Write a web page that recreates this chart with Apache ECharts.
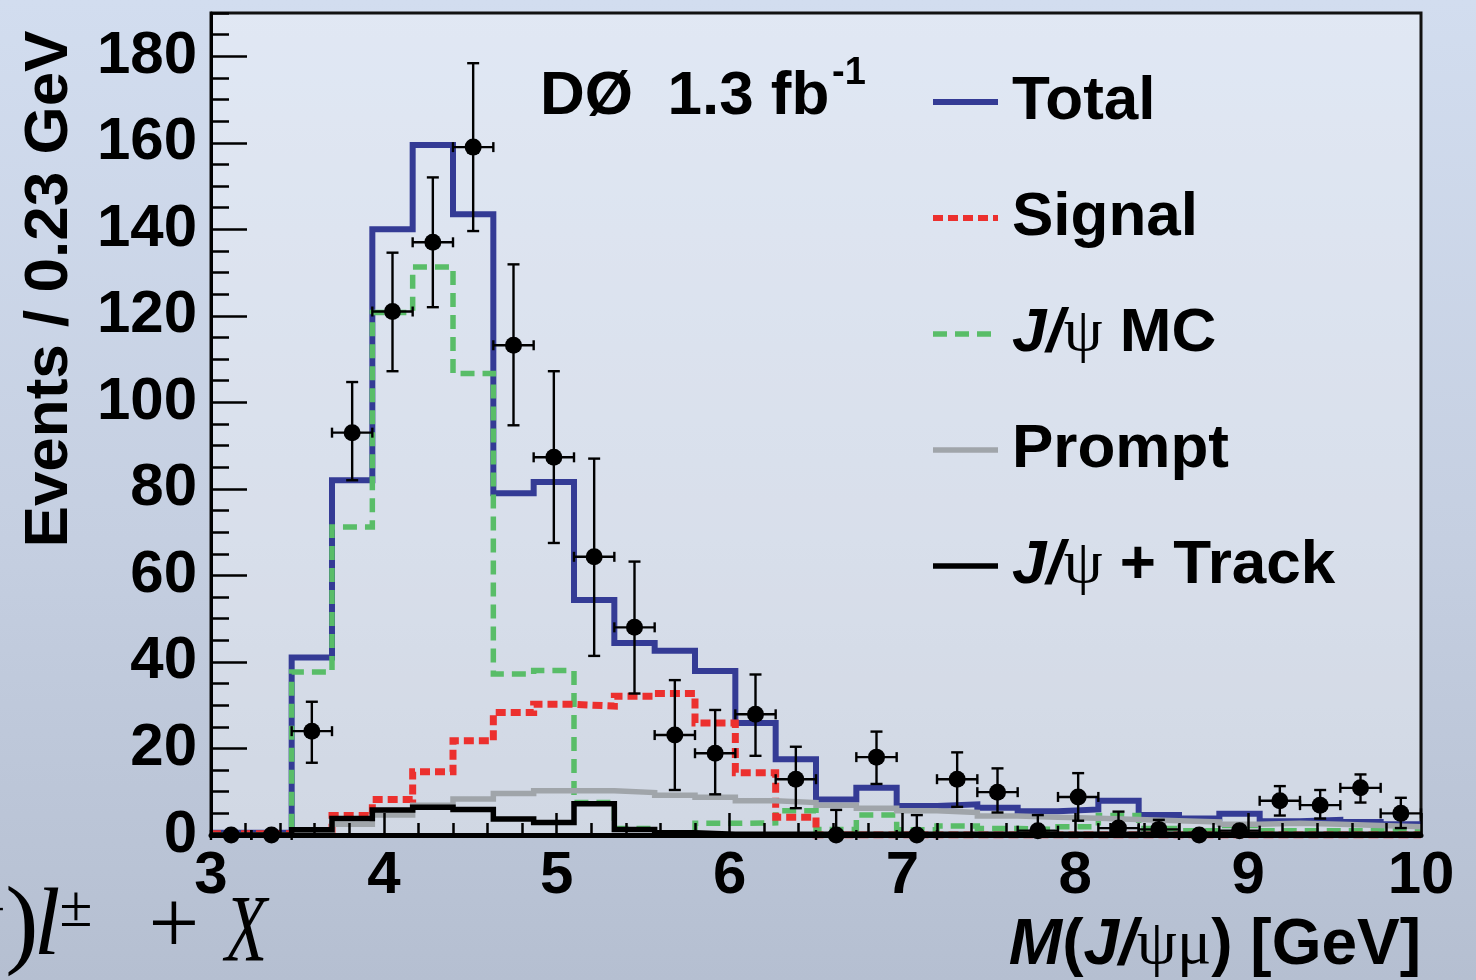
<!DOCTYPE html>
<html>
<head>
<meta charset="utf-8">
<script src="https://cdn.jsdelivr.net/npm/echarts@6/dist/echarts.min.js"></script>
<style>
  html, body { margin: 0; padding: 0; }
  #chart {
    width: 1476px; height: 980px;
    background: linear-gradient(180deg, #d2ddef 0%, #c5cfe1 55%, #b5bfd1 100%);
  }
</style>
</head>
<body>
<div id="chart"></div>
<script>
// Binning of the M(J/psi mu) histogram: 30 bins between 3 and 10 GeV
const X_MIN = 3;
const X_MAX = 10;
const N_BINS = 30;
const BIN_W = (X_MAX - X_MIN) / N_BINS;

// Fit components, events per bin
const totalFit = [0.5, 0.5, 41, 82, 140, 159.5, 143.5, 79, 81.6, 54.3,
                  44.4, 42.6, 37.9, 25.9, 17.5, 8.2, 10.9, 6.7, 7.1, 6.3,
                  5.5, 5.9, 7.9, 4.6, 3.8, 4.9, 3.2, 3.5, 3.0, 2.5];
const signal   = [0.3, 0.3, 0.5, 4.5, 8.2, 14.6, 21.8, 28.3, 30.2, 29.8,
                  32.1, 32.7, 25.9, 14.4, 4.1, 0, 0, 0, 0, 0,
                  0, 0, 0, 0, 0, 0, 0, 0, 0, 0];
const jpsiMC   = [0, 0, 37.7, 71.2, 120.8, 131.3, 106.7, 37.2, 38, 7.5,
                  1.5, 0, 2.7, 2.8, 5.6, 1.3, 4.6, 1.2, 2.1, 1.5,
                  1.3, 1.9, 4.5, 1.5, 1.0, 2.2, 1.0, 1.0, 1.0, 1.0];
const prompt   = [0, 0, 0.5, 2.5, 4.6, 6.9, 8.3, 9.6, 10.2, 10.2,
                  9.8, 9.2, 8.7, 7.9, 7.5, 6.9, 6.2, 5.6, 5.2, 4.4,
                  4.1, 3.9, 3.6, 3.3, 3.0, 2.5, 2.7, 2.5, 2.2, 1.9];
const jpsiTrack = [0, 0, 1.2, 3.8, 5.8, 6.4, 5.9, 3.7, 2.9, 7.2,
                   1.3, 0.5, 0.2, 0.2, 0.2, 0.2, 0.2, 0.2, 0.2, 0.2,
                   0.2, 0.2, 0.2, 0.2, 0.2, 0.2, 0.2, 0.2, 0.2, 0.2];

// Data: counts per bin with asymmetric errors
const dataCounts = [0, 0, 24, 93, 121, 137, 159, 113.2, 87.3, 64.3,
                    48, 23.1, 18.9, 27.9, 12.9, 0, 18, 0, 12.9, 9.9,
                    1, 8.8, 1.6, 1.3, 0, 1, 7.9, 6.9, 10.9, 5];
const errDown = [0, 0, 7.3, 11, 13.8, 15, 19.4, 18.5, 19.8, 22.9,
                 15.3, 12.7, 9.5, 9.6, 6.7, 0, 6.2, 0, 6.4, 4.7,
                 1, 5.5, 1.6, 1.3, 0, 1, 3.4, 3.1, 3.4, 3.4];
const errUp   = [0, 0, 6.8, 11.7, 13.6, 15, 19.4, 18.7, 19.9, 22.7,
                 15.2, 12.7, 10, 9.2, 7.5, 5.8, 5.9, 4.6, 6.2, 5.5,
                 3.6, 5.5, 3.8, 2.2, 0, 1, 3.4, 3.5, 3.1, 3.6];

// Axis ticks
const xMajorStep = 1, xMinorStep = 0.2;
const yMax = 190, yMajorStep = 20, yMinorStep = 5;

const FONT = '"Liberation Sans", Arial, Helvetica, sans-serif';
const SERIF = '"Liberation Serif", "DejaVu Serif", serif';

const BLUE = '#343b95', RED = '#ec302e', GREEN = '#59bd68', GRAY = '#a0a5aa', BLACK = '#000000';

// line styles shared by the histograms and their legend keys
const STYLES = {
  'Total':       { color: BLUE,  width: 6,   type: 'solid' },
  'Signal':      { color: RED,   width: 7,   type: [10, 5] },
  'J/ψ MC':      { color: GREEN, width: 5.5, type: [14, 8] },
  'Prompt':      { color: GRAY,  width: 5.5, type: 'solid' },
  'J/ψ + Track': { color: BLACK, width: 5.5, type: 'solid' }
};

// step-histogram outline: left edge of every bin + closing right edge
function histPoints(values) {
  const pts = values.map((v, k) => [X_MIN + k * BIN_W, v]);
  pts.push([X_MAX, values[values.length - 1]]);
  return pts;
}

function histSeries(name, values, z) {
  const s = STYLES[name];
  return {
    name: name,
    type: 'line',
    step: 'end',
    symbol: 'none',
    z: z,
    data: histPoints(values),
    lineStyle: { color: s.color, width: s.width, type: s.type, cap: 'butt', join: 'miter' },
    itemStyle: { color: s.color },
    silent: true
  };
}

const pointData = dataCounts.map((v, k) => [X_MIN + (k + 0.5) * BIN_W, v, errDown[k], errUp[k]]);

const chart = echarts.init(document.getElementById('chart'), null, { renderer: 'canvas' });

const labelRich = {
  b:  { fontFamily: FONT, fontWeight: 'bold', fontSize: 62, color: '#000', lineHeight: 70 },
  bi: { fontFamily: FONT, fontWeight: 'bold', fontStyle: 'italic', fontSize: 62, color: '#000', lineHeight: 70 },
  g:  { fontFamily: SERIF, fontSize: 62, color: '#000', lineHeight: 70 }
};
const titleRich = {
  b:  { fontFamily: FONT, fontWeight: 'bold', fontSize: 64, color: '#000', lineHeight: 72 },
  bi: { fontFamily: FONT, fontWeight: 'bold', fontStyle: 'italic', fontSize: 64, color: '#000', lineHeight: 72 },
  g:  { fontFamily: SERIF, fontSize: 64, color: '#000', lineHeight: 72 }
};

const legendText = {
  'Total': '{b|Total}',
  'Signal': '{b|Signal}',
  'J/ψ MC': '{bi|J/}{g|ψ}{b| MC}',
  'Prompt': '{b|Prompt}',
  'J/ψ + Track': '{bi|J/}{g|ψ}{b| + Track}'
};

const legendOrder = ['Total', 'Signal', 'J/ψ MC', 'Prompt', 'J/ψ + Track'];

const option = {
  backgroundColor: 'transparent',
  animation: false,
  grid: {
    left: 211, top: 13, width: 1210, height: 822,
    show: true,
    backgroundColor: 'rgba(255,255,255,0.33)',
    borderColor: '#111',
    borderWidth: 3
  },
  legend: {
    orient: 'vertical',
    left: 930,
    top: 71,
    padding: 0,
    itemWidth: 65,
    itemHeight: 14,
    itemGap: 54,
    selectedMode: false,
    data: legendOrder.map(name => ({
      name: name,
      lineStyle: { color: STYLES[name].color, width: Math.min(STYLES[name].width, 6), type: STYLES[name].type },
      itemStyle: { color: 'rgba(0,0,0,0)', opacity: 0, borderWidth: 0 }
    })),
    formatter: name => legendText[name],
    textStyle: { padding: [0, 0, 0, 9], rich: labelRich }
  },
  xAxis: [
    {
      type: 'value', min: X_MIN, max: X_MAX, interval: xMajorStep, position: 'bottom', z: 10,
      axisLine: { show: true, onZero: false, lineStyle: { color: '#000', width: 5 } },
      axisTick: { show: true, inside: true, length: 22, lineStyle: { color: '#000', width: 2.5 } },
      axisLabel: { show: true, margin: 11, fontFamily: FONT, fontWeight: 'bold', fontSize: 60, color: '#000',
                   showMinLabel: true, showMaxLabel: true, hideOverlap: false },
      splitLine: { show: false }
    },
    {
      type: 'value', min: X_MIN, max: X_MAX, interval: xMinorStep, position: 'bottom', z: 10,
      axisLine: { show: false, onZero: false },
      axisTick: { show: true, inside: true, length: 12, lineStyle: { color: '#000', width: 2.5 } },
      axisLabel: { show: false },
      splitLine: { show: false }
    }
  ],
  yAxis: [
    {
      type: 'value', min: 0, max: yMax, interval: yMajorStep, position: 'left', z: 10,
      axisLine: { show: true, onZero: false, lineStyle: { color: '#000', width: 3 } },
      axisTick: { show: true, inside: true, length: 36, lineStyle: { color: '#000', width: 2.5 } },
      axisLabel: { show: true, margin: 14, fontFamily: FONT, fontWeight: 'bold', fontSize: 60, color: '#000',
                   showMaxLabel: false, hideOverlap: false,
                   formatter: v => (v > 180 ? '' : String(v)) },
      splitLine: { show: false }
    },
    {
      type: 'value', min: 0, max: yMax, interval: yMinorStep, position: 'left', z: 10,
      axisLine: { show: false, onZero: false },
      axisTick: { show: true, inside: true, length: 18, lineStyle: { color: '#000', width: 2.5 } },
      axisLabel: { show: false },
      splitLine: { show: false }
    }
  ],
  series: [
    histSeries('Total', totalFit, 2),
    histSeries('J/ψ MC', jpsiMC, 3),
    histSeries('Signal', signal, 4),
    histSeries('Prompt', prompt, 5),
    histSeries('J/ψ + Track', jpsiTrack, 6),
    {
      name: 'Data errors',
      type: 'custom',
      z: 7,
      clip: false,
      silent: true,
      data: pointData,
      encode: { x: 0, y: 1 },
      renderItem: function (params, api) {
        const x = api.value(0), y = api.value(1);
        const dn = api.value(2), up = api.value(3);
        const left = api.coord([x - BIN_W / 2, y]);
        const right = api.coord([x + BIN_W / 2, y]);
        const lo = api.coord([x, y - dn]);
        const hi = api.coord([x, y + up]);
        const st = { stroke: '#000', lineWidth: 2.4 };
        const cap = 6, hcap = 5;
        const kids = [
          { type: 'line', shape: { x1: left[0], y1: left[1], x2: right[0], y2: right[1] }, style: st },
          { type: 'line', shape: { x1: left[0], y1: left[1] - hcap, x2: left[0], y2: left[1] + hcap }, style: st },
          { type: 'line', shape: { x1: right[0], y1: right[1] - hcap, x2: right[0], y2: right[1] + hcap }, style: st }
        ];
        if (dn + up > 0) {
          kids.push({ type: 'line', shape: { x1: lo[0], y1: lo[1], x2: hi[0], y2: hi[1] }, style: st });
          if (up > 0) kids.push({ type: 'line', shape: { x1: hi[0] - cap, y1: hi[1], x2: hi[0] + cap, y2: hi[1] }, style: st });
          if (dn > 0) kids.push({ type: 'line', shape: { x1: lo[0] - cap, y1: lo[1], x2: lo[0] + cap, y2: lo[1] }, style: st });
        }
        return { type: 'group', children: kids };
      }
    },
    {
      name: 'Data',
      type: 'scatter',
      z: 8,
      clip: false,
      silent: true,
      symbol: 'circle',
      symbolSize: 17,
      itemStyle: { color: '#000', opacity: 1 },
      data: pointData.map(p => [p[0], p[1]])
    }
  ],
  graphic: [
    // experiment and luminosity
    { type: 'text', x: 540, y: 97, z: 20,
      style: { text: 'DØ  1.3 fb', fontFamily: FONT, fontWeight: 'bold', fontSize: 62, fill: '#000',
               align: 'left', verticalAlign: 'middle' } },
    { type: 'text', x: 832, y: 74, z: 20,
      style: { text: '-1', fontFamily: FONT, fontWeight: 'bold', fontSize: 38, fill: '#000',
               align: 'left', verticalAlign: 'middle' } },
    // y axis title
    { type: 'text', x: 50, y: 289, rotation: Math.PI / 2, z: 20,
      style: { text: 'Events / 0.23 GeV', fontFamily: FONT, fontWeight: 'bold', fontSize: 62, fill: '#000',
               align: 'center', verticalAlign: 'middle' } },
    // x axis title
    { type: 'text', x: 1421, y: 946, z: 20,
      style: { text: '{bi|M}{b|(}{bi|J/}{g|ψμ}{b|) [GeV]}', align: 'right', verticalAlign: 'middle',
               rich: titleRich } },
    // remainder of the decay formula at the lower left
    { type: 'text', x: 5, y: 912, z: 20,
      style: { text: '−', fontFamily: SERIF, fontSize: 48, fill: '#000', align: 'right', verticalAlign: 'middle' } },
    { type: 'text', x: 22, y: 929, z: 20,
      style: { text: ')', fontFamily: SERIF, fontSize: 100, fill: '#000', align: 'center', verticalAlign: 'middle' } },
    { type: 'text', x: 47, y: 929, z: 20,
      style: { text: 'l', fontFamily: SERIF, fontStyle: 'italic', fontSize: 96, fill: '#000', align: 'center', verticalAlign: 'middle' } },
    { type: 'text', x: 76, y: 910, z: 20,
      style: { text: '±', fontFamily: SERIF, fontSize: 60, fill: '#000', align: 'center', verticalAlign: 'middle' } },
    { type: 'text', x: 174, y: 929, z: 20,
      style: { text: '+', fontFamily: SERIF, fontSize: 90, fill: '#000', align: 'center', verticalAlign: 'middle' } },
    { type: 'text', x: 246, y: 936, z: 20, scaleX: 0.72,
      style: { text: 'X', fontFamily: SERIF, fontStyle: 'italic', fontSize: 96, fill: '#000', align: 'center', verticalAlign: 'middle' } }
  ]
};

chart.setOption(option);
</script>
</body>
</html>
